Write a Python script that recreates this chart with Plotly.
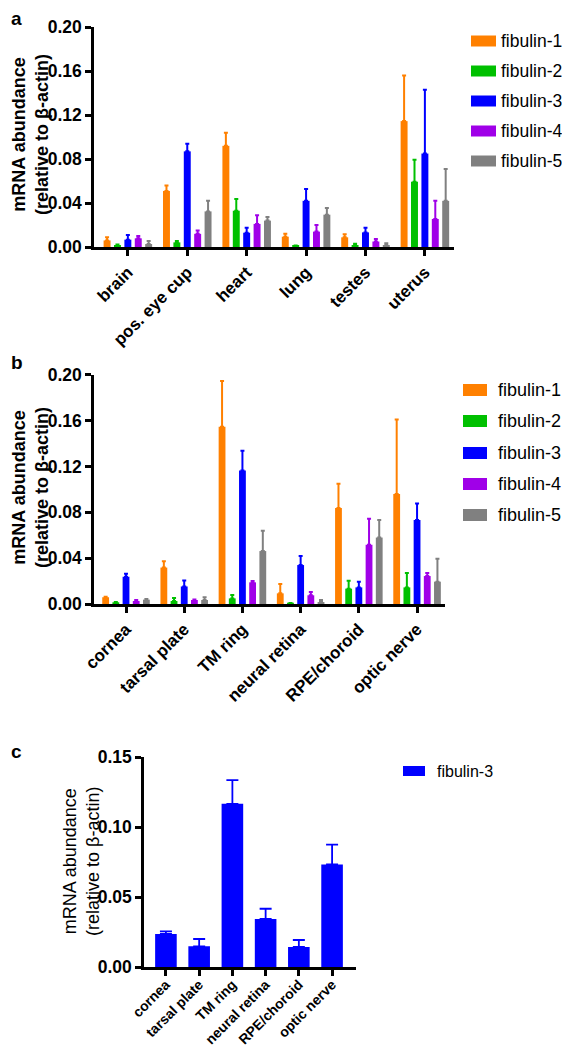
import plotly.graph_objects as go

# ---------------- data ----------------
tissues_a = ["brain", "pos. eye cup", "heart", "lung", "testes", "uterus"]
tissues_b = ["cornea", "tarsal plate", "TM ring", "neural retina", "RPE/choroid", "optic nerve"]
series = ["fibulin-1", "fibulin-2", "fibulin-3", "fibulin-4", "fibulin-5"]
colors = ["#FF8000", "#00C000", "#0000FF", "#A000E8", "#808080"]

# panel a (mean, upper SEM)
f1_a = [0.0060, 0.0510, 0.0920, 0.0094, 0.0088, 0.1145]
f1_a_err = [0.0028, 0.0050, 0.0120, 0.0026, 0.0027, 0.0415]
f2_a = [0.0018, 0.0042, 0.0330, 0.0010, 0.0015, 0.0594]
f2_a_err = [0.0005, 0.0013, 0.0106, 0.0003, 0.0015, 0.0200]
f3_a = [0.0067, 0.0870, 0.0130, 0.0420, 0.0133, 0.0850]
f3_a_err = [0.0043, 0.0070, 0.0046, 0.0107, 0.0043, 0.0580]
f4_a = [0.0079, 0.0120, 0.0210, 0.0140, 0.0050, 0.0255]
f4_a_err = [0.0021, 0.0030, 0.0078, 0.0060, 0.0023, 0.0165]
f5_a = [0.0027, 0.0324, 0.0240, 0.0294, 0.0018, 0.0420]
f5_a_err = [0.0028, 0.0096, 0.0033, 0.0061, 0.0015, 0.0290]

# panel b
f1_b = [0.0059, 0.0318, 0.1547, 0.0093, 0.0837, 0.0960]
f1_b_err = [0.0005, 0.0055, 0.0400, 0.0081, 0.0213, 0.0650]
f2_b = [0.0015, 0.0026, 0.0049, 0.0006, 0.0134, 0.0145]
f2_b_err = [0.0003, 0.0027, 0.0029, 0.0002, 0.0069, 0.0125]
f3_b = [0.0238, 0.0153, 0.1166, 0.0340, 0.0145, 0.0733]
f3_b_err = [0.0027, 0.0053, 0.0171, 0.0079, 0.0050, 0.0145]
f4_b = [0.0026, 0.0035, 0.0189, 0.0076, 0.0517, 0.0244]
f4_b_err = [0.0009, 0.0005, 0.0011, 0.0029, 0.0227, 0.0026]
f5_b = [0.0038, 0.0035, 0.0462, 0.0017, 0.0580, 0.0195]
f5_b_err = [0.0006, 0.0024, 0.0178, 0.0018, 0.0153, 0.0200]

# panel c
f3_c = [0.0238, 0.0150, 0.1167, 0.0345, 0.0145, 0.0734]
f3_c_err = [0.0019, 0.0052, 0.0169, 0.0073, 0.0050, 0.0141]

vals_a = [f1_a, f2_a, f3_a, f4_a, f5_a]
errs_a = [f1_a_err, f2_a_err, f3_a_err, f4_a_err, f5_a_err]
vals_b = [f1_b, f2_b, f3_b, f4_b, f5_b]
errs_b = [f1_b_err, f2_b_err, f3_b_err, f4_b_err, f5_b_err]

W, H = 570, 1050
FONT = "Liberation Sans, Arial, sans-serif"

fig = go.Figure()

slot = 0.175
bw = 0.117


def add_group(vals, errs, xa, ya, cats):
    for i, (v, e) in enumerate(zip(vals, errs)):
        fig.add_trace(go.Bar(
            x=cats, y=v, name=series[i], xaxis=xa, yaxis=ya,
            marker=dict(color=colors[i], line=dict(width=0)),
            width=bw, offset=-2.5 * slot + i * slot + (slot - bw) / 2,
            error_y=dict(type="data", symmetric=False, array=e,
                         arrayminus=[0] * len(e), color=colors[i],
                         thickness=2, width=2),
            showlegend=False,
        ))


add_group(vals_a, errs_a, "x", "y", tissues_a)
add_group(vals_b, errs_b, "x2", "y2", tissues_b)

fig.add_trace(go.Bar(
    x=tissues_b, y=f3_c, name=series[2], xaxis="x3", yaxis="y3",
    marker=dict(color=colors[2], line=dict(width=0)),
    width=0.65, offset=-0.325,
    error_y=dict(type="data", symmetric=False, array=f3_c_err,
                 arrayminus=[0] * len(f3_c_err), color=colors[2],
                 thickness=1.8, width=6),
    showlegend=False,
))


def px_x(p):
    return p / W


def px_y(p):
    return 1 - p / H


axis_common = dict(showline=True, linecolor="black", linewidth=2.5,
                   ticks="outside", ticklen=6, tickwidth=2.5, tickcolor="black",
                   showgrid=False, zeroline=False, automargin=False)

fig.update_layout(
    template="none",
    width=W, height=H, autosize=False,
    margin=dict(l=0, r=0, t=0, b=0, pad=0),
    paper_bgcolor="white", plot_bgcolor="white",
    barmode="overlay",
    font=dict(family=FONT, color="black"),
    xaxis=dict(domain=[px_x(86), px_x(446)], anchor="y", type="category",
               range=[-0.57, 5.49], tickangle=-45,
               tickfont=dict(size=17, weight="bold"), **axis_common),
    yaxis=dict(domain=[px_y(239), px_y(19)], anchor="x", range=[0, 0.2001],
               tickvals=[0, 0.04, 0.08, 0.12, 0.16, 0.20], tickformat=".2f",
               tickfont=dict(size=17.5, weight="bold"), **axis_common),
    xaxis2=dict(domain=[px_x(86), px_x(437)], anchor="y2", type="category",
                range=[-0.55, 5.48], tickangle=-45,
                tickfont=dict(size=17, weight="bold"), **axis_common),
    yaxis2=dict(domain=[px_y(596), px_y(366.7)], anchor="x2", range=[0, 0.2001],
                tickvals=[0, 0.04, 0.08, 0.12, 0.16, 0.20], tickformat=".2f",
                tickfont=dict(size=17.5, weight="bold"), **axis_common),
    xaxis3=dict(domain=[px_x(136), px_x(348)], anchor="y3", type="category",
                range=[-0.66, 5.72], tickangle=-45, ticklabelstandoff=-5,
                tickfont=dict(size=14, weight="bold"), **axis_common),
    yaxis3=dict(domain=[px_y(959.3), px_y(749)], anchor="x3", range=[0, 0.1501],
                tickvals=[0, 0.05, 0.10, 0.15], tickformat=".2f",
                tickfont=dict(size=17.5, weight="bold"), **axis_common),
)

ytitle = "mRNA abundance<br>(relative to β-actin)"
annotations = [
    dict(text=ytitle, x=px_x(23), y=px_y(127), xref="paper", yref="paper",
         xanchor="center", yanchor="middle", textangle=-90, showarrow=False,
         font=dict(size=18, weight="bold")),
    dict(text=ytitle, x=px_x(23), y=px_y(480), xref="paper", yref="paper",
         xanchor="center", yanchor="middle", textangle=-90, showarrow=False,
         font=dict(size=18, weight="bold")),
    dict(text=ytitle, x=px_x(73), y=px_y(854), xref="paper", yref="paper",
         xanchor="center", yanchor="middle", textangle=-90, showarrow=False,
         font=dict(size=18)),
    dict(text="a", x=px_x(1), y=px_y(-2), xref="paper", yref="paper",
         xanchor="left", yanchor="top", showarrow=False, font=dict(size=19, weight="bold")),
    dict(text="b", x=px_x(1), y=px_y(342), xref="paper", yref="paper",
         xanchor="left", yanchor="top", showarrow=False, font=dict(size=19, weight="bold")),
    dict(text="c", x=px_x(1), y=px_y(731), xref="paper", yref="paper",
         xanchor="left", yanchor="top", showarrow=False, font=dict(size=19, weight="bold")),
]
shapes = []


def manual_legend(names, cols, x0, x1, text_x, ys, h, fsize):
    for n, c, yc in zip(names, cols, ys):
        shapes.append(dict(type="rect", xref="paper", yref="paper",
                           x0=px_x(x0), x1=px_x(x1), y0=px_y(yc + h / 2), y1=px_y(yc - h / 2),
                           fillcolor=c, line=dict(width=0)))
        annotations.append(dict(text=n, x=px_x(text_x), y=px_y(yc), xref="paper", yref="paper",
                                xanchor="left", yanchor="middle", showarrow=False,
                                font=dict(size=fsize)))


manual_legend(series, colors, 463, 488, 491, [33, 63, 93, 123, 153], 11, 17.5)
manual_legend(series, colors, 455, 479, 488, [382, 413, 445, 476, 507], 12, 18)
manual_legend([series[2]], [colors[2]], 395, 417, 427, [763], 10, 16)

fig.update_layout(annotations=annotations, shapes=shapes)

fig.write_html("out.html")
